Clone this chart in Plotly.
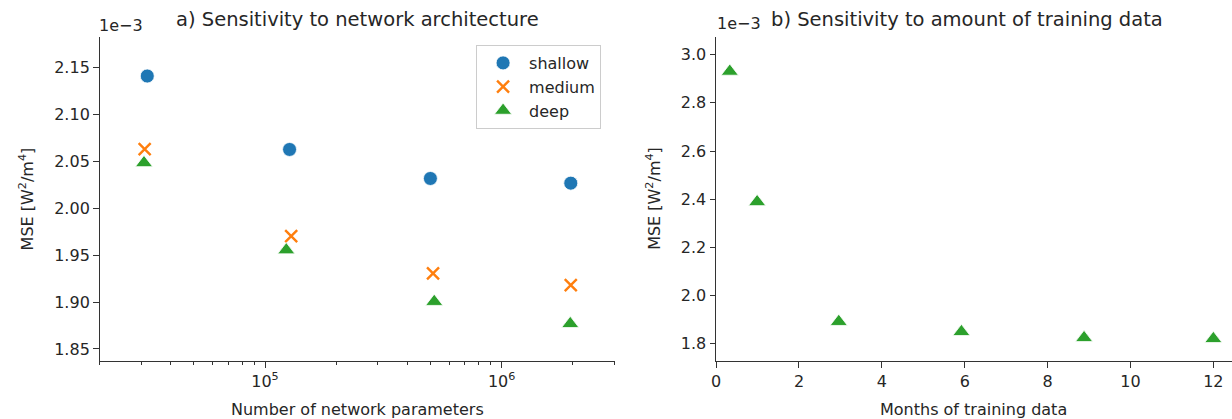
import plotly.graph_objects as go

# ---- data (MSE values in units of 1e-3 W^2/m^4) ----
params_shallow = [3.18e4, 1.27e5, 5.00e5, 1.96e6]
mse_shallow = [2.1407, 2.0625, 2.0316, 2.0266]
params_medium = [3.10e4, 1.29e5, 5.13e5, 1.96e6]
mse_medium = [2.0628, 1.9702, 1.9306, 1.9181]
params_deep = [3.08e4, 1.23e5, 5.19e5, 1.95e6]
mse_deep = [2.0482, 1.9553, 1.9004, 1.8768]

months = [0.33, 0.99, 2.96, 5.92, 8.88, 12.0]
mse_months = [2.930, 2.389, 1.892, 1.850, 1.825, 1.821]

left_yticks = [1.85, 1.90, 1.95, 2.00, 2.05, 2.10, 2.15]
left_xticks = [1e5, 1e6]
left_xticktext = ["10<sup>5</sup>", "10<sup>6</sup>"]
left_xminor = [2e4, 3e4, 4e4, 5e4, 6e4, 7e4, 8e4, 9e4,
               2e5, 3e5, 4e5, 5e5, 6e5, 7e5, 8e5, 9e5, 2e6, 3e6]
right_yticks = [1.8, 2.0, 2.2, 2.4, 2.6, 2.8, 3.0]
right_xticks = [0, 2, 4, 6, 8, 10, 12]

BLUE, ORANGE, GREEN = "#1f77b4", "#ff7f0e", "#2ca02c"
FONT = "DejaVu Sans"
TXT = "#262626"
W, H = 1232, 419

fig = go.Figure()
fig.add_trace(go.Scatter(x=params_shallow, y=mse_shallow, mode="markers", name="shallow",
                         marker=dict(symbol="circle", size=14, color=BLUE,
                                     line=dict(color="white", width=0.8)),
                         xaxis="x", yaxis="y"))
fig.add_trace(go.Scatter(x=params_medium, y=mse_medium, mode="markers", name="medium",
                         marker=dict(symbol="x-thin-open", size=12, color=ORANGE,
                                     line=dict(color=ORANGE, width=2.4)),
                         xaxis="x", yaxis="y"))
fig.add_trace(go.Scatter(x=params_deep, y=mse_deep, mode="markers", name="deep",
                         marker=dict(symbol="triangle-up", size=15, color=GREEN,
                                     line=dict(color="white", width=0.8)),
                         xaxis="x", yaxis="y"))
fig.add_trace(go.Scatter(x=months, y=mse_months, mode="markers", showlegend=False,
                         marker=dict(symbol="triangle-up", size=15, color=GREEN,
                                     line=dict(color="white", width=0.8)),
                         xaxis="x2", yaxis="y2"))

ydom = [(H - 361) / H, (H - 36.5) / H]
axis_common = dict(showline=True, linecolor="#333", linewidth=1.2, mirror=False,
                   ticks="outside", ticklen=5.5, tickwidth=1.2, tickcolor="#333",
                   showgrid=False, zeroline=False,
                   tickfont=dict(family=FONT, size=16, color=TXT))

fig.update_layout(
    width=W, height=H, margin=dict(l=0, r=0, t=0, b=0),
    paper_bgcolor="white", plot_bgcolor="white",
    font=dict(family=FONT, size=16, color=TXT),
    xaxis=dict(domain=[95 / W, 612 / W], type="log",
               range=[4.301, 6.4771], tickmode="array",
               tickvals=left_xticks, ticktext=left_xticktext,
               minor=dict(tickmode="array", tickvals=left_xminor, ticks="outside",
                          ticklen=3.2, tickwidth=1, tickcolor="#333"),
               anchor="y", **axis_common),
    yaxis=dict(domain=ydom, range=[1.8372, 2.1828], tickmode="array",
               tickvals=left_yticks, tickformat=".2f", anchor="x", **axis_common),
    xaxis2=dict(domain=[714 / W, 1.0], range=[0, 12.45], tickmode="array",
                tickvals=right_xticks, anchor="y2", **axis_common),
    yaxis2=dict(domain=ydom, range=[1.729, 3.075], tickmode="array",
                tickvals=right_yticks, tickformat=".1f", anchor="x2", **axis_common),
    legend=dict(x=473 / W, y=(H - 45) / H, xanchor="left", yanchor="top",
                itemwidth=42,
                bgcolor="rgba(255,255,255,0.8)", bordercolor="#cccccc", borderwidth=1,
                font=dict(family=FONT, size=16, color=TXT)),
)

ann = [
    dict(text="a) Sensitivity to network architecture", x=353.5 / W, y=(H - 20) / H,
         font=dict(size=19.5)),
    dict(text="b) Sensitivity to amount of training data", x=966 / W, y=(H - 19) / H,
         font=dict(size=19.5)),
    dict(text="1e\u22123", x=116 / W, y=(H - 25) / H, font=dict(size=16)),
    dict(text="1e\u22123", x=736.5 / W, y=(H - 24) / H, font=dict(size=16)),
    dict(text="Number of network parameters", x=353.5 / W, y=(H - 409) / H,
         font=dict(size=16)),
    dict(text="Months of training data", x=972.5 / W, y=(H - 409) / H,
         font=dict(size=16)),
    dict(text="MSE [W<sup>2</sup>/m<sup>4</sup>]", x=22 / W, y=(H - 198.5) / H,
         textangle=-90, font=dict(size=16)),
    dict(text="MSE [W<sup>2</sup>/m<sup>4</sup>]", x=651 / W, y=(H - 198.5) / H,
         textangle=-90, font=dict(size=16)),
]
for a in ann:
    a.update(xref="paper", yref="paper", showarrow=False, xanchor="center",
             yanchor="middle")
    a["font"] = dict(family=FONT, color=TXT, **a["font"])
    fig.add_annotation(**a)

fig.write_html("out.html")
